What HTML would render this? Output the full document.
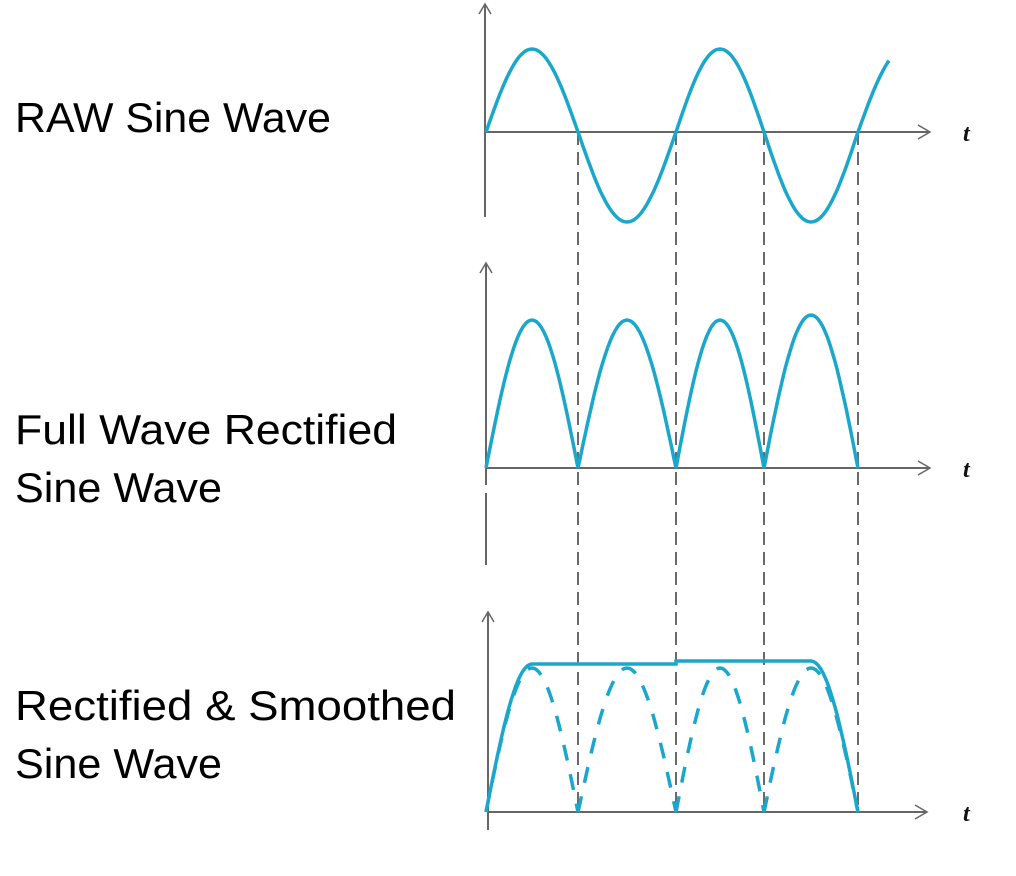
<!DOCTYPE html>
<html><head><meta charset="utf-8"><style>
html,body{margin:0;padding:0;background:#fff;width:1016px;height:876px;overflow:hidden}
svg{display:block}
.lbl{font-family:"Liberation Sans",sans-serif;font-size:42px;fill:#000}
.t{font-family:"Liberation Serif",serif;font-style:italic;font-weight:bold;font-size:24px;fill:#111}
</style></head><body>
<svg id="c" width="1016" height="876" viewBox="0 0 1016 876">
<text class="lbl" x="15" y="132" textLength="316" lengthAdjust="spacingAndGlyphs">RAW Sine Wave</text>
<text class="lbl" x="15" y="444" textLength="382" lengthAdjust="spacingAndGlyphs">Full Wave Rectified</text>
<text class="lbl" x="15" y="502" textLength="207" lengthAdjust="spacingAndGlyphs">Sine Wave</text>
<text class="lbl" x="15" y="720" textLength="441" lengthAdjust="spacingAndGlyphs">Rectified &amp; Smoothed</text>
<text class="lbl" x="15" y="778" textLength="207" lengthAdjust="spacingAndGlyphs">Sine Wave</text>
</svg>
<script>
const zeros=[486,578,676,764,858];
const peaks1=[49,49];
const troughs1=[222,222];
const peaks2=[320,320,320,315];
const smoothLevel=[664,661];
const dashHumpPeaks=[668,668,668,668];
const NS="http://www.w3.org/2000/svg";
const svg=document.getElementById('c');
const CY="#1ba7cc", AX="#666";
function mk(tag,attrs){const e=document.createElementNS(NS,tag);for(const k in attrs)e.setAttribute(k,attrs[k]);svg.appendChild(e);return e;}
function axis(x,y0,y1,ay,xEnd,name){
  let e=mk('line',{x1:x,y1:y0,x2:x,y2:y1,stroke:AX,'stroke-width':2});
  
  
  e=mk('path',{d:`M${x-6},${y0+10} L${x},${y0} L${x+6},${y0+10}`,fill:'none',stroke:AX,'stroke-width':1.5});
  
  
  e=mk('line',{x1:x,y1:ay,x2:xEnd,y2:ay,stroke:AX,'stroke-width':2});
  
  
  e=mk('path',{d:`M${xEnd-12},${ay-7} L${xEnd},${ay} L${xEnd-12},${ay+7}`,fill:'none',stroke:AX,'stroke-width':1.5});
  
  
  e=mk('text',{x:963,y:ay+9,class:'t'});e.textContent='t';
  
  
}
function hump(xa,xb,base,top){let d='';const n=40;for(let i=0;i<=n;i++){const u=i/n;const x=xa+(xb-xa)*u;const y=base-(base-top)*Math.sin(Math.PI*u);d+=(i?'L':'M')+x.toFixed(1)+','+y.toFixed(1);}return d;}
zeros.slice(1).forEach((x,i)=>{const e=mk('line',{x1:x,y1:132,x2:x,y2:812,stroke:'#6a6a6a','stroke-width':2,'stroke-dasharray':'13,7'});
  
  });
axis(485,4,217,132,930,'raw');
{let d='';for(let i=0;i<4;i++){const xa=zeros[i],xb=zeros[i+1];const top=i%2==0?peaks1[i/2]:troughs1[(i-1)/2];d+=hump(xa,xb,132,top).replace(/^M/,i?'L':'M');}
 const xa=zeros[4],w=zeros[4]-zeros[3];for(let j=1;j<=12;j++){const u=j/12*0.33;d+='L'+(xa+w*u).toFixed(1)+','+(132-(132-peaks1[0])*Math.sin(Math.PI*u)).toFixed(1);}
 const e=mk('path',{d,fill:'none',stroke:CY,'stroke-width':3.5});
 
 }
axis(486,263,485,468,930,'rectified');
{const e=mk('line',{x1:486,y1:493,x2:486,y2:565,stroke:AX,'stroke-width':2});
 
 }
{let d='';for(let i=0;i<4;i++)d+=hump(zeros[i],zeros[i+1],468,peaks2[i]).replace(/^M/,i?'L':'M');
 const e=mk('path',{d,fill:'none',stroke:CY,'stroke-width':3.5});
 
 }
axis(488,612,830,812,927,'smoothed');
{let d='';for(let i=0;i<4;i++)d+=hump(zeros[i],zeros[i+1],812,dashHumpPeaks[i]);
 const e=mk('path',{d,fill:'none',stroke:CY,'stroke-width':3.5,'stroke-dasharray':'16,14'});
 
 }
{const w0=zeros[1]-zeros[0],w3=zeros[4]-zeros[3];let d='';const n=20;
 for(let i=0;i<=n;i++){const u=i/n*0.5;d+=(i?'L':'M')+(zeros[0]+w0*u).toFixed(1)+','+(812-(812-smoothLevel[0])*Math.sin(Math.PI*u)).toFixed(1);}
 const mid=zeros[2];
 d+=`L${mid},${smoothLevel[0]}L${mid},${smoothLevel[1]}L${zeros[3]+w3*0.5},${smoothLevel[1]}`;
 for(let i=0;i<=n;i++){const u=0.5+i/n*0.5;d+='L'+(zeros[3]+w3*u).toFixed(1)+','+(812-(812-smoothLevel[1])*Math.sin(Math.PI*u)).toFixed(1);}
 const e=mk('path',{d,fill:'none',stroke:CY,'stroke-width':3.5});
 
 }
</script>
</body></html>
